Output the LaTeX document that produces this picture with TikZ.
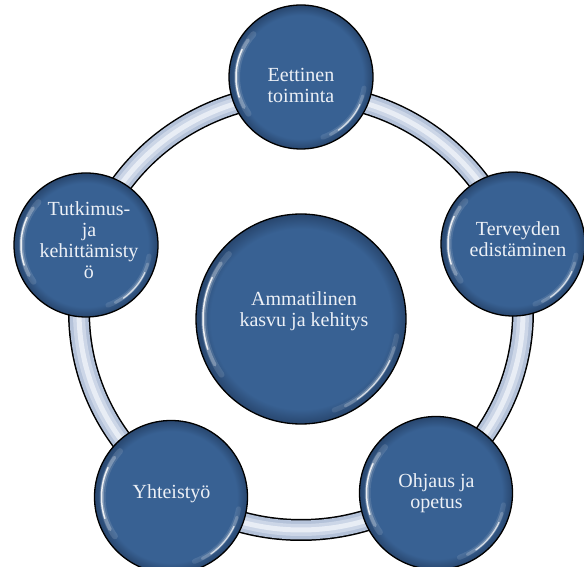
\documentclass[tikz,border=0pt]{standalone}
\usepackage{fontspec}
\setmainfont{Liberation Serif}
\usetikzlibrary{calc}
\definecolor{bubA}{RGB}{56,97,147}
\definecolor{bubD}{RGB}{40,70,110}
\definecolor{ringA}{RGB}{180,194,217}
\definecolor{ringB}{RGB}{204,214,231}
\definecolor{ringC}{RGB}{232,237,245}
\definecolor{txt}{RGB}{236,240,246}
\pgfdeclareradialshading{bubshade}{\pgfpointorigin}{color(0bp)=(bubA); color(21.5bp)=(bubA); color(25bp)=(bubD); color(50bp)=(bubD)}
\tikzset{
  bub/.style={circle, draw=black, line width=1.3pt, shading=bubshade, inner sep=0pt},
  lbl/.style={text=txt, align=center, font=\fontsize{20}{21}\selectfont, inner sep=0pt},
  hl/.style={white, line cap=round},
  ringline/.style={line width=#1}
}
\newcommand\mybub[4]{%
  \node[bub, minimum size={2*#4 pt}] (#1) at (#2,#3) {};
  \draw[hl, line width=6pt, opacity=.12] ($(#1)+(138:{#4-8})$) arc[start angle=138, end angle=215, radius={#4-8}];
  \draw[hl, line width=3.5pt, opacity=.28] ($(#1)+(145:{#4-7.5})$) arc[start angle=145, end angle=208, radius={#4-7.5}];
  \draw[hl, line width=1.5pt, opacity=.85] ($(#1)+(155:{#4-7})$) arc[start angle=155, end angle=198, radius={#4-7}];
  \draw[hl, line width=5pt, opacity=.10] ($(#1)+(290:{#4-8})$) arc[start angle=290, end angle=350, radius={#4-8}];
  \draw[hl, line width=3pt, opacity=.22] ($(#1)+(297:{#4-7.5})$) arc[start angle=297, end angle=343, radius={#4-7.5}];
  \draw[hl, line width=1.3pt, opacity=.7] ($(#1)+(305:{#4-7})$) arc[start angle=305, end angle=335, radius={#4-7}];
}
\begin{document}
\begin{tikzpicture}[x=1pt,y=1pt]
\useasboundingbox (0,0) rectangle (584,567);
\coordinate (rc) at (301,255);
\draw[ringline=22pt, black] (rc) ellipse [x radius=222, y radius=218];
\draw[ringline=19pt, ringA] (rc) ellipse [x radius=222, y radius=218];
\draw[ringline=12pt, ringB] (rc) ellipse [x radius=222, y radius=218];
\draw[ringline=5pt, ringC] (rc) ellipse [x radius=222, y radius=218];
\mybub{top}{301}{490}{72}
\mybub{right}{513}{323}{72}
\mybub{ohj}{436}{74}{76.5}
\mybub{yht}{171}{70}{76.5}
\mybub{left}{86}{322}{72}
\mybub{mid}{301}{248}{105}
\node[lbl] (ttop) at (301,482) {Eettinen\\toiminta};
\node[lbl] (tright) at (518,328) {Terveyden\\edistäminen};
\node[lbl] (tohj) at (436.5,74) {Ohjaus ja\\opetus};
\node[lbl] (tyht) at (171.5,73.5) {Yhteistyö};
\node[lbl] (tleft) at (89,327) {Tutkimus-\\ja\\kehittämisty\\ö};
\node[lbl] (tmid) at (304,255.5) {Ammatilinen\\kasvu ja kehitys};
\end{tikzpicture}
\end{document}
